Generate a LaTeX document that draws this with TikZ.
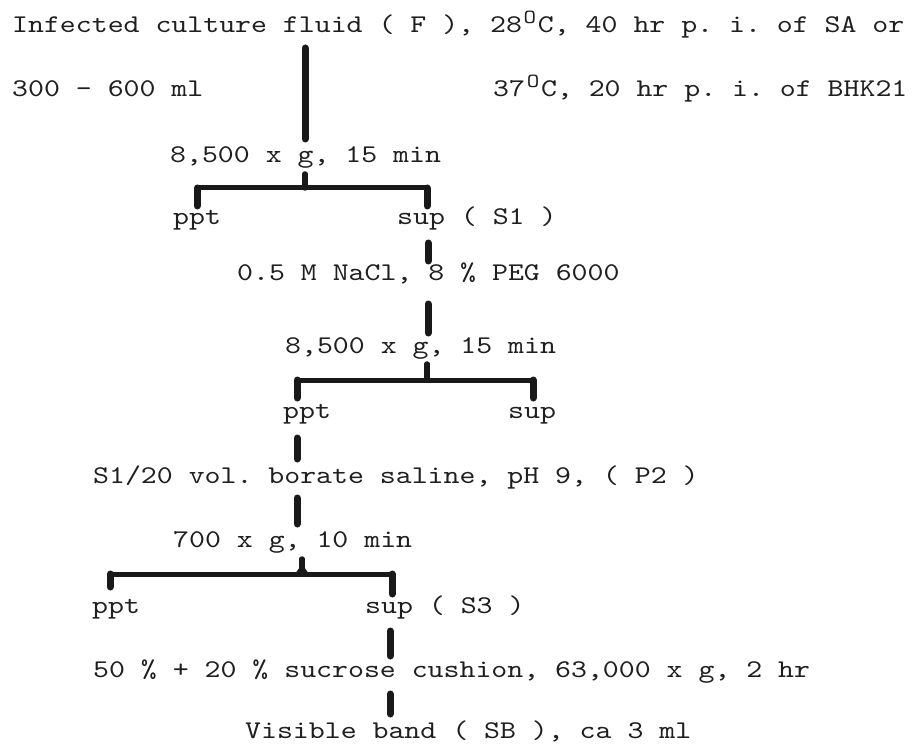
\documentclass[tikz,border=0pt]{standalone}
\usepackage{fontspec}
\setmonofont[FakeStretch=1.19]{lmmono10-regular.otf}
\newcommand\degO{\makebox[0.625em]{\raisebox{0.36em}{\fontsize{20}{20}\selectfont O}}}
\begin{document}
\frenchspacing
\begin{tikzpicture}[x=1pt,y=-1pt,
  txt/.style={anchor=base west,inner sep=0pt,text=black!88,font=\fontsize{25.5}{30}\selectfont\ttfamily},
  bar/.style={line width=7pt,line cap=round,draw=black!90},
  hbar/.style={line width=5pt,line cap=round,line join=round,draw=black!90},
  tick/.style={line width=5.5pt,line cap=round,draw=black!90}]
\useasboundingbox (0,0) rectangle (915,751);
\fill[white] (0,0) rectangle (915,751);

% texts
\node[txt] (f) at (12,33) {Infected culture fluid ( F ), 28\degO C, 40 hr p. i. of SA or};
\node[txt] (vol) at (12,97) {300 - 600 ml};
\node[txt] (bhk) at (493,97) {37\degO C, 20 hr p. i. of BHK21};
\node[txt] (c1) at (170,163) {8,500 x g, 15 min};
\node[txt] (ppt1) at (173,225) {ppt};
\node[txt] (s1) at (397,225) {sup ( S1 )};
\node[txt] (peg) at (237,280) {0.5 M NaCl, 8 \% PEG 6000};
\node[txt] (c2) at (285,353) {8,500 x g, 15 min};
\node[txt] (ppt2) at (283,418) {ppt};
\node[txt] (sup2) at (508,418) {sup};
\node[txt] (p2) at (93,483) {S1/20 vol. borate saline, pH 9, ( P2 )};
\node[txt] (c3) at (173,547) {700 x g, 10 min};
\node[txt] (ppt3) at (92,613) {ppt};
\node[txt] (s3) at (365,613) {sup ( S3 )};
\node[txt] (suc) at (93,677) {50 \% + 20 \% sucrose cushion, 63,000 x g, 2 hr};
\node[txt] (sb) at (245,738) {Visible band ( SB ), ca 3 ml};

% connector end points
\coordinate (fT) at (305,48);   \coordinate (fB) at (305,139);
\coordinate (k1T) at (305,174); \coordinate (k1) at (305,188);
\coordinate (b1L) at (197,188); \coordinate (b1R) at (427,188);
\coordinate (b1Lb) at (197,206); \coordinate (b1Rb) at (427,206);
\coordinate (s1T) at (428,243); \coordinate (s1B) at (428,261);
\coordinate (pegT) at (428,304); \coordinate (pegB) at (428,333);
\coordinate (k2T) at (427,364); \coordinate (k2) at (427,380);
\coordinate (b2L) at (297,380); \coordinate (b2R) at (533,380);
\coordinate (b2Lb) at (297,398); \coordinate (b2Rb) at (533,398);
\coordinate (pp2T) at (297,438); \coordinate (pp2B) at (297,459);
\coordinate (p2T) at (297,498); \coordinate (p2B) at (297,524);
\coordinate (k3T) at (302,559); \coordinate (k3) at (302,574);
\coordinate (b3L) at (110,574); \coordinate (b3R) at (392,574);
\coordinate (b3Lb) at (110,587); \coordinate (b3Rb) at (392,594);
\coordinate (s3T) at (390,631); \coordinate (s3B) at (390,656);
\coordinate (sucT) at (390,694); \coordinate (sucB) at (390,714);

% connectors
\draw[bar] (fT) -- (fB);
\draw[tick] (k1T) -- (k1);
\draw[hbar] (b1Lb) -- (b1L) -- (b1R) -- (b1Rb);
\draw[bar] (b1L) -- (b1Lb);
\draw[bar] (b1R) -- (b1Rb);
\draw[bar] (s1T) -- (s1B);
\draw[bar] (pegT) -- (pegB);
\draw[tick] (k2T) -- (k2);
\draw[hbar] (b2Lb) -- (b2L) -- (b2R) -- (b2Rb);
\draw[bar] (b2L) -- (b2Lb);
\draw[bar] (b2R) -- (b2Rb);
\draw[bar] (pp2T) -- (pp2B);
\draw[bar] (p2T) -- (p2B);
\draw[tick] (k3T) -- (k3);
\fill[black!90] ([xshift=-7pt]k3) -- ([yshift=10pt]k3) -- ([xshift=7pt]k3) -- cycle;
\draw[hbar] (b3Lb) -- (b3L) -- (b3R) -- (b3Rb);
\draw[bar] (b3L) -- (b3Lb);
\draw[bar] (b3R) -- (b3Rb);
\draw[bar] (s3T) -- (s3B);
\draw[bar] (sucT) -- (sucB);
\end{tikzpicture}
\end{document}
